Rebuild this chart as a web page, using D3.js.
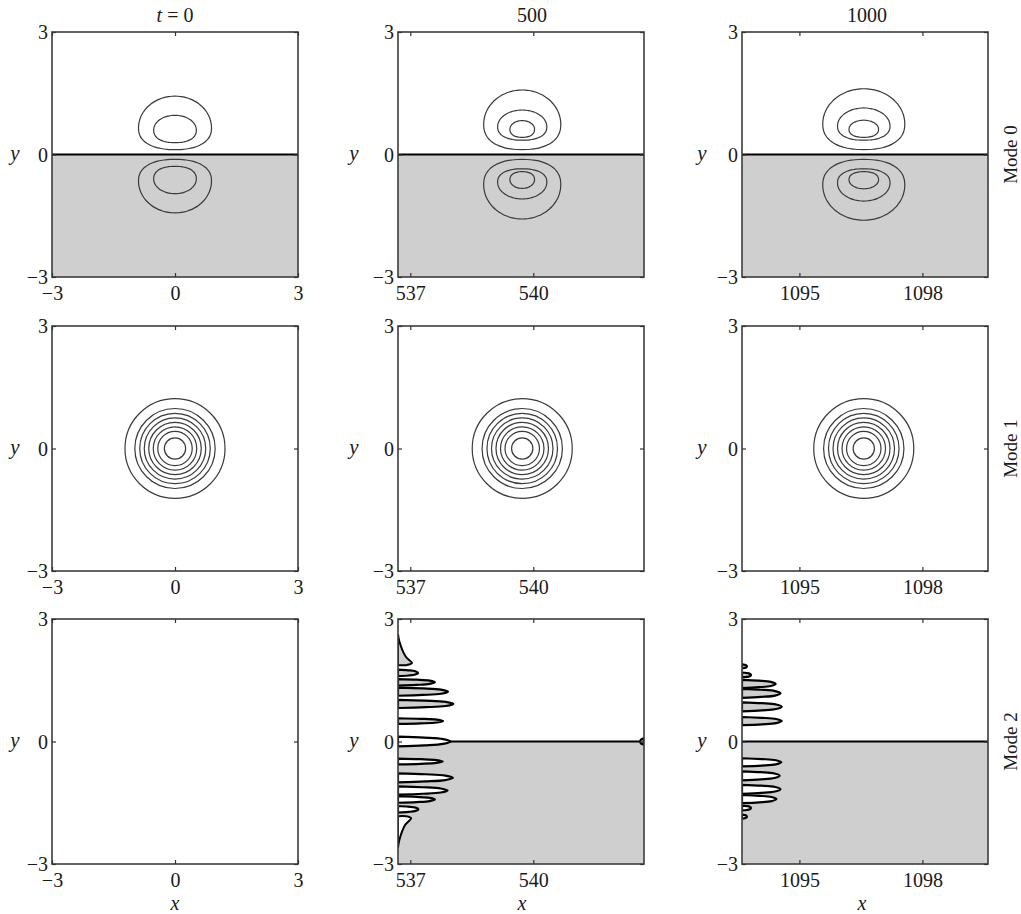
<!DOCTYPE html>
<html>
<head>
<meta charset="utf-8">
<script src="https://cdn.jsdelivr.net/npm/d3@7"></script>
<style>
  html, body { margin: 0; padding: 0; background: #fff; }
  svg { display: block; }
  svg text { font-family: "Liberation Serif", "Times New Roman", serif !important; fill: #1a1a1a; }
</style>
</head>
<body>
<svg id="chart" width="1021" height="914"></svg>
<script>
// ---- data ---------------------------------------------------------------
const timeLabels = ["0", "500", "1000"];
const modeLabels = ["Mode 0", "Mode 1", "Mode 2"];
const xDomains = [[-3, 3], [536.7, 542.7], [1093.6, 1099.6]];
const xTicks = [[-3, 0, 3], [537, 540], [1095, 1098]];
const yDomain = [-3, 3];
const yTicks = [-3, 0, 3];
const packetCenters = [0, 539.73, 1096.57];

// Mode 0: upper-lobe contours [half width, top y, bottom y, y of widest point];
// the lower lobe is the mirror image (opposite sign, shaded half-plane).
const mode0Lobes_t0 = [[0.89, 1.43, 0.12, 0.65], [0.52, 0.96, 0.29, 0.60]];
const mode0Lobes_t500 = [[0.94, 1.58, 0.12, 0.74], [0.60, 1.09, 0.35, 0.68], [0.30, 0.83, 0.42, 0.62]];
const mode0Lobes_t1000 = [[1.00, 1.61, 0.12, 0.75], [0.64, 1.14, 0.35, 0.70], [0.36, 0.84, 0.42, 0.62]];

// Mode 1: concentric contour radii
const mode1Radii_t0 = [1.22, 0.98, 0.86, 0.75, 0.64, 0.53, 0.42, 0.26];
const mode1Radii_t500 = [1.22, 0.98, 0.86, 0.75, 0.64, 0.53, 0.42, 0.26];
const mode1Radii_t1000 = [1.22, 0.98, 0.86, 0.75, 0.64, 0.53, 0.42, 0.26];

// Mode 2: fingers growing from the left boundary [y centre, length, half thickness]
const mode2UpperFingers_t500 = [[1.68, 0.49, 0.08], [1.45, 0.90, 0.08], [1.22, 1.22, 0.10], [0.92, 1.35, 0.10], [0.50, 1.10, 0.07]];
const mode2LowerFingers_t500 = [[-0.49, 1.09, 0.07], [-0.89, 1.34, 0.11], [-1.20, 1.21, 0.10], [-1.42, 0.90, 0.08], [-1.66, 0.50, 0.08]];
const mode2ZeroFinger_t500 = [0.0, 1.28, 0.12];
const mode2Wedges_t500 = [[2.63, 1.90, 0.34], [-2.60, -1.86, 0.32]]; // [far y, near y, length]
const mode2EdgeBlip_t500 = [0.0, 0.08, 0.08];
const mode2UpperFingers_t1000 = [[1.84, 0.12, 0.05], [1.63, 0.22, 0.06], [1.41, 0.82, 0.10], [1.18, 0.94, 0.11], [0.85, 0.97, 0.11], [0.50, 0.97, 0.10]];
const mode2LowerFingers_t1000 = [[-0.51, 0.96, 0.10], [-0.84, 0.92, 0.11], [-1.17, 0.94, 0.11], [-1.41, 0.84, 0.10], [-1.63, 0.22, 0.06], [-1.84, 0.12, 0.05]];

// ---- layout -------------------------------------------------------------
const colLeft = [52, 398, 742];
const rowTop = [32, 326, 619];
const panelW = 246, panelH = 245;
const shade = "#cfcfcf";
const contourColor = "#3a3a3a";
const fontStack = "'Liberation Serif', 'Times New Roman', serif";

const svg = d3.select("#chart");

function panel(row, col) {
  const x = d3.scaleLinear().domain(xDomains[col]).range([colLeft[col], colLeft[col] + panelW]);
  const y = d3.scaleLinear().domain(yDomain).range([rowTop[row] + panelH, rowTop[row]]);
  const g = svg.append("g");
  const clipId = `clip-${row}-${col}`;
  g.append("clipPath").attr("id", clipId).append("rect")
    .attr("x", x.range()[0]).attr("y", y.range()[1]).attr("width", panelW).attr("height", panelH);
  const body = g.append("g").attr("clip-path", `url(#${clipId})`);
  return { x, y, g, body };
}

function shadeLowerHalf(p) {
  p.body.append("rect")
    .attr("x", p.x.range()[0]).attr("y", p.y(0))
    .attr("width", panelW).attr("height", p.y(yDomain[0]) - p.y(0))
    .attr("fill", shade);
}

function zeroLine(p, x0, x1) {
  p.body.append("line")
    .attr("x1", p.x(x0)).attr("x2", p.x(x1))
    .attr("y1", p.y(0)).attr("y2", p.y(0))
    .attr("stroke", "#000").attr("stroke-width", 2);
}

// egg-shaped closed contour, flatter on the side facing y = 0
function lobePath(p, cx, lobe, sign) {
  const [a, top, bottom, wide] = lobe;
  const pts = d3.range(0, 72).map(i => {
    const t = (i / 72) * 2 * Math.PI;
    const c = Math.cos(t), s = Math.sin(t);
    let px, py;
    if (s >= 0) {
      px = a * c;
      py = wide + (top - wide) * s;
    } else {
      px = a * Math.sign(c) * Math.pow(Math.abs(c), 0.88);
      py = wide - (wide - bottom) * Math.pow(-s, 0.85);
    }
    return [p.x(cx + px), p.y(sign * py)];
  });
  return d3.line().curve(d3.curveCardinalClosed.tension(0.2))(pts);
}

// finger contour attached to a vertical boundary at xBase (dir +1 grows right)
function fingerPath(p, xBase, dir, f) {
  const [yc, L, h] = f;
  const pts = [
    [xBase, yc + h], [xBase + dir * 0.5 * L, yc + 0.8 * h], [xBase + dir * 0.86 * L, yc + 0.5 * h],
    [xBase + dir * L, yc], [xBase + dir * 0.86 * L, yc - 0.5 * h], [xBase + dir * 0.5 * L, yc - 0.8 * h],
    [xBase, yc - h]
  ].map(([u, v]) => [p.x(u), p.y(v)]);
  return d3.line().curve(d3.curveCatmullRom)(pts) + "Z";
}

function wedgePath(p, xBase, w) {
  const [far, near, L] = w;
  const s = Math.sign(near);
  const pts = [
    [xBase, far], [xBase + 0.1 * L, far - s * 0.25 * Math.abs(far - near)],
    [xBase + 0.55 * L, near + s * 0.18], [xBase + L, near + s * 0.02], [xBase + 0.6 * L, near - s * 0.03], [xBase, near - s * 0.03]
  ].map(([u, v]) => [p.x(u), p.y(v)]);
  return d3.line().curve(d3.curveCatmullRom)(pts) + "Z";
}

function drawFingers(p, list, xBase, dir, fill) {
  p.body.selectAll(null).data(list).join("path")
    .attr("d", f => fingerPath(p, xBase, dir, f))
    .attr("fill", fill).attr("stroke", "#000").attr("stroke-width", 2.2)
    .attr("stroke-linejoin", "round");
}

function frameAndAxes(p, row, col) {
  const { x, y, g } = p;
  g.append("rect")
    .attr("x", x.range()[0]).attr("y", y.range()[1])
    .attr("width", panelW).attr("height", panelH)
    .attr("fill", "none").attr("stroke", "#3c3c3c").attr("stroke-width", 1.6);

  const fmt = d3.format("");
  const xb = g.append("g").attr("transform", `translate(0,${y.range()[0]})`)
    .call(d3.axisBottom(x).tickValues(xTicks[col]).tickSize(-4).tickPadding(9).tickFormat(d => fmt(d)));
  const xt = g.append("g").attr("transform", `translate(0,${y.range()[1]})`)
    .call(d3.axisTop(x).tickValues(xTicks[col]).tickSize(-4).tickFormat(""));
  const yl = g.append("g").attr("transform", `translate(${x.range()[0]},0)`)
    .call(d3.axisLeft(y).tickValues(yTicks).tickSize(-4).tickPadding(4).tickFormat(d => fmt(d)));
  const yr = g.append("g").attr("transform", `translate(${x.range()[1]},0)`)
    .call(d3.axisRight(y).tickValues(yTicks).tickSize(-4).tickFormat(""));
  [xb, xt, yl, yr].forEach(a => {
    a.attr("font-family", fontStack).attr("font-size", 20);
    a.select(".domain").remove();
    a.selectAll(".tick line").attr("stroke", "#333").attr("stroke-width", 1.2);
    a.selectAll("text").attr("fill", "#1a1a1a");
  });
  yl.selectAll("text").attr("dy", "0.34em");
}

const mode0Lobes = [mode0Lobes_t0, mode0Lobes_t500, mode0Lobes_t1000];
const mode1Radii = [mode1Radii_t0, mode1Radii_t500, mode1Radii_t1000];

for (let row = 0; row < 3; row++) {
  for (let col = 0; col < 3; col++) {
    const p = panel(row, col);
    const cx = packetCenters[col];
    if (row === 0) {
      shadeLowerHalf(p);
      zeroLine(p, xDomains[col][0], xDomains[col][1]);
      [1, -1].forEach(sign => {
        p.body.selectAll(null).data(mode0Lobes[col]).join("path")
          .attr("d", l => lobePath(p, cx, l, sign))
          .attr("fill", "none").attr("stroke", contourColor).attr("stroke-width", 1.2);
      });
    } else if (row === 1) {
      p.body.selectAll(null).data(mode1Radii[col]).join("ellipse")
        .attr("cx", p.x(cx)).attr("cy", p.y(0))
        .attr("rx", r => p.x(cx + r) - p.x(cx))
        .attr("ry", r => p.y(0) - p.y(r))
        .attr("fill", "none").attr("stroke", contourColor).attr("stroke-width", 1.2);
    } else if (row === 2 && col > 0) {
      shadeLowerHalf(p);
      const x0 = xDomains[col][0];
      if (col === 1) {
        p.body.append("path").attr("d", wedgePath(p, x0, mode2Wedges_t500[0]))
          .attr("fill", shade).attr("stroke", "#000").attr("stroke-width", 2);
        p.body.append("path").attr("d", wedgePath(p, x0, mode2Wedges_t500[1]))
          .attr("fill", "#fff").attr("stroke", "#000").attr("stroke-width", 2);
        drawFingers(p, mode2UpperFingers_t500, x0, 1, shade);
        drawFingers(p, mode2LowerFingers_t500, x0, 1, "#fff");
        zeroLine(p, x0 + mode2ZeroFinger_t500[1] * 0.95, xDomains[col][1]);
        drawFingers(p, [mode2ZeroFinger_t500], x0, 1, "#fff");
        drawFingers(p, [mode2EdgeBlip_t500], xDomains[col][1] - 0.01, -1, "#fff");
      } else {
        zeroLine(p, x0, xDomains[col][1]);
        drawFingers(p, mode2UpperFingers_t1000, x0, 1, shade);
        drawFingers(p, mode2LowerFingers_t1000, x0, 1, "#fff");
      }
    }
    frameAndAxes(p, row, col);
  }
}

// ---- titles and labels --------------------------------------------------
const titleX = [175, 532, 867];
const tTitle = svg.append("text").attr("x", titleX[0]).attr("y", 22)
  .attr("text-anchor", "middle").attr("font-size", 20);
tTitle.append("tspan").attr("font-style", "italic").text("t");
tTitle.append("tspan").text(" = " + timeLabels[0]);
[1, 2].forEach(c => {
  svg.append("text").attr("x", titleX[c]).attr("y", 22)
    .attr("text-anchor", "middle").attr("font-size", 20).text(timeLabels[c]);
});

modeLabels.forEach((m, r) => {
  const cy = rowTop[r] + panelH / 2;
  svg.append("text")
    .attr("transform", `translate(1017,${cy}) rotate(-90)`)
    .attr("text-anchor", "middle").attr("font-size", 19).text(m);
});

const yLabelX = [15, 354, 702];
for (let r = 0; r < 3; r++) {
  for (let c = 0; c < 3; c++) {
    svg.append("text").attr("x", yLabelX[c]).attr("y", rowTop[r] + panelH / 2 + 5)
      .attr("text-anchor", "middle").attr("font-size", 21).attr("font-style", "italic").text("y");
  }
}
const xLabelX = [175, 522, 862];
xLabelX.forEach(xx => {
  svg.append("text").attr("x", xx).attr("y", 910)
    .attr("text-anchor", "middle").attr("font-size", 20).attr("font-style", "italic").text("x");
});
</script>
</body>
</html>
